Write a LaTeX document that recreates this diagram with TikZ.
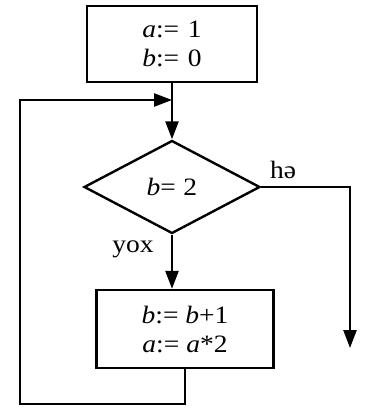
\documentclass[tikz,border=0pt]{standalone}
\usepackage{fontspec}
\setmainfont{Liberation Serif}
\newfontfamily\widefont[FakeStretch=1.1]{Liberation Serif}
\usetikzlibrary{shapes.geometric,arrows.meta}
\begin{document}
\begin{tikzpicture}[x=1pt,y=-1pt,
  line width=2.4pt,
  every node/.style={font=\widefont\fontsize{25}{29}\selectfont},
  procbox/.style={draw,rectangle,align=center,inner sep=0pt},
  decision/.style={draw,diamond,inner sep=0pt,aspect=1.9},
  lbl/.style={font=\widefont\fontsize{25}{28}\selectfont},
  arr/.style={-{Triangle[length=18pt,width=13pt]}}]
\useasboundingbox[fill=white] (0,0) rectangle (367,410);
\node[procbox,minimum width=170pt,minimum height=76pt] (init) at (172,44)
  {\textit{a}:=\hspace{0.35em}1\\\textit{b}:=\hspace{0.35em}0};
\node[decision,minimum width=176pt,minimum height=93pt] (cond) at (172,187)
  {\textit{b}=\hspace{0.3em}2};
\node[procbox,minimum width=177pt,minimum height=78pt] (body) at (185,329)
  {\textit{b}:= \textit{b}+1\\\textit{a}:= \textit{a}*2};
\coordinate (join) at (172,100);
\coordinate (corner1) at (185,404);
\coordinate (corner2) at (20,404);
\coordinate (corner3) at (20,100);
\coordinate (rcorner) at (350,187);
\coordinate (rend) at (350,348);
\node[lbl] (yes) at (283,170) {hə};
\node[lbl] (no) at (133,249) {yox};
\draw[arr] (init.south) -- (cond.north);
\draw[arr] (cond.south) -- (cond.south |- body.north);
\draw[arr] (cond.east) -- (rcorner) -- (rend);
\draw[arr] (body.south) -- (corner1) -- (corner2) -- (corner3) -- (join);
\end{tikzpicture}
\end{document}
